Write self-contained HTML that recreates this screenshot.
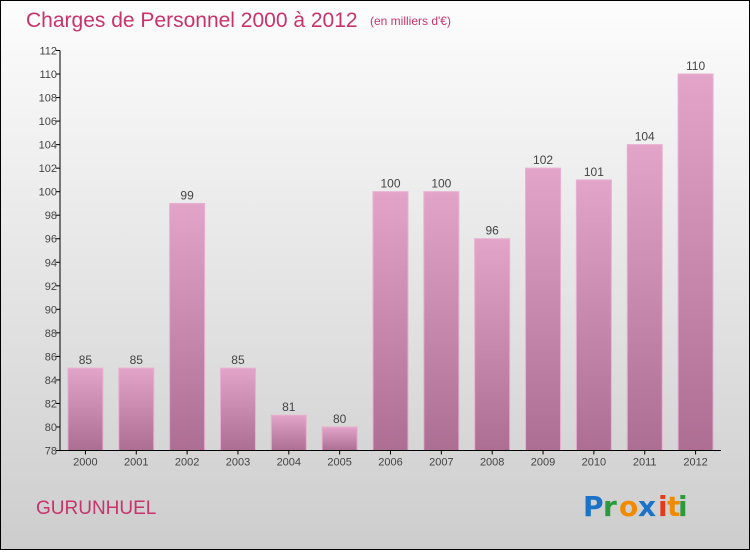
<!DOCTYPE html>
<html><head><meta charset="utf-8"><style>
html,body{margin:0;padding:0}
body{width:750px;height:550px;overflow:hidden;font-family:"Liberation Sans",sans-serif}
</style></head><body>
<svg id="chart" width="750" height="550" xmlns="http://www.w3.org/2000/svg">
<defs>
<linearGradient id="bg" x1="0" y1="0" x2="0" y2="1"><stop offset="0" stop-color="#fdfdfd"/><stop offset="1" stop-color="#cdcdcd"/></linearGradient>
<linearGradient id="bar" x1="0" y1="0" x2="0" y2="1"><stop offset="0" stop-color="#e2a4c8"/><stop offset="1" stop-color="#ad6e94"/></linearGradient>
</defs>
<rect x="0.5" y="0.5" width="749" height="549" fill="url(#bg)" stroke="#000"/>
<text x="26" y="27" font-size="21" fill="#c8336b">Charges de Personnel 2000 à 2012</text>
<text x="370" y="25" font-size="12" fill="#c8336b">(en milliers d'€)</text>
<text x="36" y="514" font-size="19" fill="#c8336b">GURUNHUEL</text>
<g font-size="28" font-weight="bold" font-family="'DejaVu Sans',sans-serif">
<text x="583" y="516" fill="#1a73c8">P</text><text x="603" y="516" fill="#2a9a3a">r</text><text x="619" y="516" fill="#f08a00">o</text><text x="638" y="516" fill="#1a73c8">x</text><text x="658" y="516" fill="#e53b1a">i</text><text x="667" y="516" fill="#f08a00">t</text><text x="678" y="516" fill="#2a9a3a">i</text>
</g>
<g id="plot"></g>
</svg>
<script>
const years=["2000","2001","2002","2003","2004","2005","2006","2007","2008","2009","2010","2011","2012"];
const values=[85,85,99,85,81,80,100,100,96,102,101,104,110];
const yTicks=[78,80,82,84,86,88,90,92,94,96,98,100,102,104,106,108,110,112];
const NS="http://www.w3.org/2000/svg";
const g=document.getElementById("plot");
const x0=60,x1=721,yTop=50.5,yBot=450.5,yMin=78,yMax=112;
const y=v=>yBot-(v-yMin)/(yMax-yMin)*(yBot-yTop);
const step=(x1-x0)/years.length;
const xc=i=>x0+step*(i+0.5);
function mk(t,a){const e=document.createElementNS(NS,t);for(const k in a)e.setAttribute(k,a[k]);g.appendChild(e);return e;}
yTicks.forEach(v=>{
 const t=mk("line",{x1:x0-4,x2:x0,y1:y(v),y2:y(v),stroke:"#000"});
 
 
 const l=mk("text",{x:x0-3,y:y(v)+4,"text-anchor":"end","font-size":"11",fill:"#444"});
 l.textContent=v;
 
 
});
values.forEach((v,i)=>{
 const r=mk("rect",{x:xc(i)-17.5,y:y(v),width:35,height:yBot-y(v),fill:"url(#bar)",stroke:"#e8b0d0","stroke-width":"1"});
 
 
 const l=mk("text",{x:xc(i),y:y(v)-4,"text-anchor":"middle","font-size":"12",fill:"#444"});
 l.textContent=v;
 
 
 const tk=mk("line",{x1:xc(i),x2:xc(i),y1:yBot,y2:yBot+4,stroke:"#000"});
 
 
 const xl=mk("text",{x:xc(i),y:yBot+15,"text-anchor":"middle","font-size":"11",fill:"#444"});
 xl.textContent=years[i];
 
 
});
const ya=mk("line",{x1:x0,x2:x0,y1:yTop,y2:yBot,stroke:"#000"});


const xa=mk("line",{x1:x0,x2:x1,y1:yBot,y2:yBot,stroke:"#000"});


</script>
</body></html>
